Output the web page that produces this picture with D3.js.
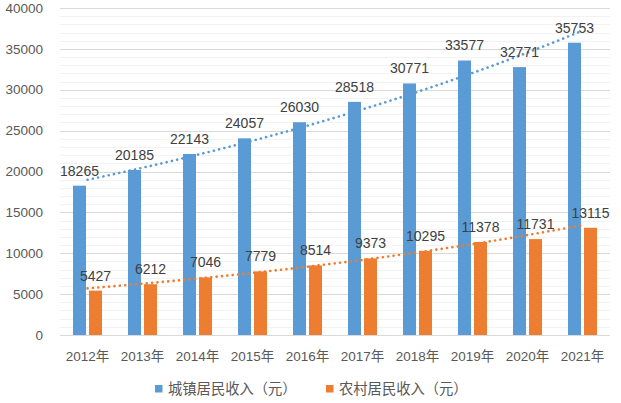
<!DOCTYPE html>
<html>
<head>
<meta charset="utf-8">
<script src="https://cdn.jsdelivr.net/npm/d3@7.9.0/dist/d3.min.js"></script>
<style>
  html, body { margin: 0; padding: 0; background: #fff; }
  text { font-family: "Liberation Sans", "Noto Sans CJK SC", sans-serif; }
</style>
</head>
<body>
<svg id="chart"></svg>
<script>
const years = ["2012年", "2013年", "2014年", "2015年", "2016年", "2017年", "2018年", "2019年", "2020年", "2021年"];
const urban = [18265, 20185, 22143, 24057, 26030, 28518, 30771, 33577, 32771, 35753];
const rural = [5427, 6212, 7046, 7779, 8514, 9373, 10295, 11378, 11731, 13115];
const seriesNames = ["城镇居民收入（元）", "农村居民收入（元）"];
const colors = ["#5B9BD5", "#ED7D31"];
const yTicks = [0, 5000, 10000, 15000, 20000, 25000, 30000, 35000, 40000];

const width = 621, height = 403;
const svg = d3.select("#chart").attr("width", width).attr("height", height);

const x = d3.scaleBand().domain(years).range([60, 610]);
const xs = d3.scaleBand().domain([0, 1]).range([0, x.bandwidth()])
    .paddingInner(0.1875).paddingOuter(0.8125);
const y = d3.scaleLinear().domain([0, 40000]).range([335, 8]);

// minor gridlines every 1000, major every 5000
svg.append("g").selectAll("line")
    .data(d3.range(1000, 40001, 1000).filter(v => v % 5000 !== 0))
    .enter().append("line")
    .attr("x1", 60).attr("x2", 610)
    .attr("y1", d => Math.round(y(d)) + 0.5).attr("y2", d => Math.round(y(d)) + 0.5)
    .attr("stroke", "#f2f2f2");
svg.append("g").selectAll("line")
    .data(yTicks)
    .enter().append("line")
    .attr("x1", 60).attr("x2", 610)
    .attr("y1", d => Math.round(y(d)) + 0.5).attr("y2", d => Math.round(y(d)) + 0.5)
    .attr("stroke", "#d9d9d9");

// y labels
svg.append("g").selectAll("text")
    .data(yTicks)
    .enter().append("text")
    .attr("x", 43).attr("y", d => y(d))
    .attr("dy", "0.35em")
    .attr("text-anchor", "end")
    .attr("font-size", "13.5px")
    .attr("fill", "#595959")
    .text(d => d);

// x labels
svg.append("g").selectAll("text")
    .data(years)
    .enter().append("text")
    .attr("x", d => x(d) + x.bandwidth() / 2).attr("y", 356)
    .attr("dy", "0.35em")
    .attr("text-anchor", "middle")
    .attr("font-size", "13.5px")
    .attr("fill", "#595959")
    .text(d => d);

const series = [urban, rural];

// bars
series.forEach((vals, s) => {
    svg.append("g").selectAll("rect")
        .data(vals)
        .enter().append("rect")
        .attr("x", (d, i) => x(years[i]) + xs(s))
        .attr("width", xs.bandwidth())
        .attr("y", d => y(d))
        .attr("height", d => y(0) - y(d))
        .attr("fill", colors[s]);
});

// exponential trendlines (least squares on ln y, like Excel)
series.forEach((vals, s) => {
    const n = vals.length;
    const xi = d3.range(1, n + 1);
    const ly = vals.map(Math.log);
    const mx = d3.mean(xi), my = d3.mean(ly);
    const b = d3.sum(xi, (v, i) => (v - mx) * (ly[i] - my)) / d3.sum(xi, v => (v - mx) ** 2);
    const a = my - b * mx;
    const pts = d3.range(1, n + 0.001, 0.1).map(t => [
        x(years[0]) + x.bandwidth() / 2 + (t - 1) * x.step(),
        y(Math.exp(a + b * t))
    ]);
    svg.append("path")
        .attr("d", d3.line()(pts))
        .attr("fill", "none")
        .attr("stroke", colors[s])
        .attr("stroke-width", 2.6)
        .attr("stroke-linecap", "round")
        .attr("stroke-dasharray", "0.1 5.3");
});

// value labels
series.forEach((vals, s) => {
    svg.append("g").selectAll("text")
        .data(vals)
        .enter().append("text")
        .attr("x", (d, i) => x(years[i]) + xs(s) + xs.bandwidth() / 2)
        .attr("y", d => y(d) - 15)
        .attr("dy", "0.35em")
        .attr("text-anchor", "middle")
        .attr("font-size", "14px")
        .attr("fill", "#404040")
        .text(d => d);
});

// legend
const legendX = [155, 326];
seriesNames.forEach((name, s) => {
    svg.append("rect")
        .attr("x", legendX[s]).attr("y", 385)
        .attr("width", 7.5).attr("height", 7.5)
        .attr("fill", colors[s]);
    svg.append("text")
        .attr("x", legendX[s] + 13).attr("y", 389)
        .attr("dy", "0.35em")
        .attr("font-size", "14.3px")
        .attr("fill", "#595959")
        .text(name);
});
</script>
</body>
</html>
